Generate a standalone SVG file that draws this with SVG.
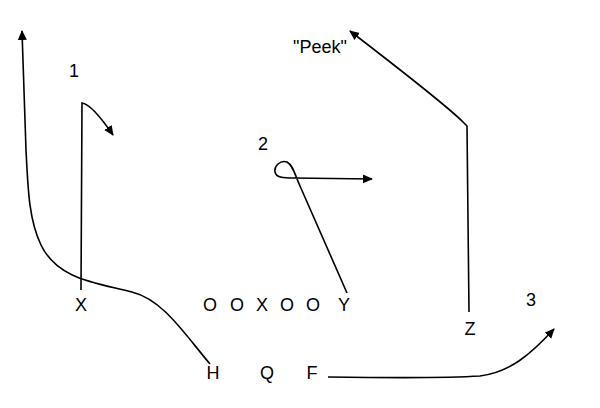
<svg xmlns="http://www.w3.org/2000/svg" width="600" height="408" viewBox="0 0 600 408">
<style>
.t{font-family:"Liberation Sans",Arial,sans-serif;font-size:18px;fill:#000;text-anchor:middle}
.r{fill:none;stroke:#000;stroke-width:1.6}
</style>
<defs>
<marker id="ah" viewBox="0 0 10 10" refX="9" refY="5" markerWidth="10" markerHeight="10" markerUnits="userSpaceOnUse" orient="auto">
<path d="M0,0.5 L10,5 L0,9.5 Z" fill="#000"/>
</marker>
</defs>
<rect width="600" height="408" fill="#fff"/>
<g id="connectors">
<path class="r" d="M210,364 C183,332 163,300 132,292 C97,283 58,280 41,245 C29,220 28,190 26,150 L22,31" marker-end="url(#ah)"/>
<path class="r" d="M81,290 L82,103 C90,104 100,116 113,135" marker-end="url(#ah)"/>
<path class="r" d="M347,293 L300,186 C295,175 293,165 287,162 C280,160 274,166 275,172 C276,178 285,178 293,178 L372,179" marker-end="url(#ah)"/>
<path class="r" d="M469,312 L467,126 L463,122 Q445,104 350,31" marker-end="url(#ah)"/>
<path class="r" d="M328,377 C400,378 450,378 480,376 C510,372 530,355 554,329" marker-end="url(#ah)"/>
</g>
<g id="labels">
<text class="t" x="74" y="77">1</text>
<text class="t" x="263" y="150">2</text>
<text class="t" x="531" y="306">3</text>
<text class="t" x="320" y="53">"Peek"</text>
</g>
<g id="node-X"><text class="t" x="81" y="311">X</text></g>
<g id="node-O1"><text class="t" x="210" y="311">O</text></g>
<g id="node-O2"><text class="t" x="237" y="311">O</text></g>
<g id="node-C"><text class="t" x="262" y="311">X</text></g>
<g id="node-O3"><text class="t" x="287" y="311">O</text></g>
<g id="node-O4"><text class="t" x="313" y="311">O</text></g>
<g id="node-Y"><text class="t" x="344" y="311">Y</text></g>
<g id="node-Z"><text class="t" x="470" y="335">Z</text></g>
<g id="node-H"><text class="t" x="213" y="379">H</text></g>
<g id="node-Q"><text class="t" x="267" y="379">Q</text></g>
<g id="node-F"><text class="t" x="312" y="379">F</text></g>
</svg>
